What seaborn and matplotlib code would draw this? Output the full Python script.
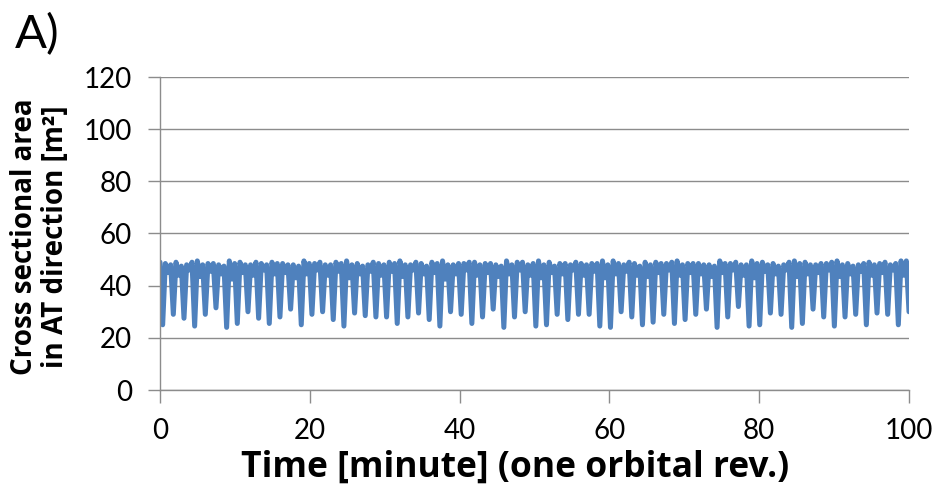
import numpy as np
import pandas as pd
import matplotlib
matplotlib.use("Agg")
import matplotlib.pyplot as plt
import seaborn as sns

# ---- data ----
dip_min = [25.0, 29.0, 27.5, 24.5, 29.0, 31.5, 24.0, 25.5, 30.0, 27.5,
           25.5, 28.0, 31.0, 25.0, 29.0, 30.0, 27.0, 24.5, 29.5, 28.5,
           28.0, 28.0, 25.5, 28.0, 29.5, 27.0, 24.5, 30.0, 29.0, 25.5,
           28.0, 31.0, 24.0, 28.0, 30.0, 24.5, 25.0, 29.0, 27.0, 29.0,
           29.0, 24.5, 24.0, 30.0, 28.0, 25.0, 26.0, 29.0, 25.5, 27.0,
           29.0, 31.0, 24.0, 28.0, 32.0, 24.5, 25.0, 29.5, 29.0, 24.0,
           25.5, 31.0, 28.0, 24.5, 28.0, 29.0, 25.0, 29.5, 29.0, 25.0]
peak_left = [48.5, 49.0, 48.0, 49.5, 48.5, 48.0, 49.5, 49.0, 48.0, 48.5,
             49.0, 48.5, 48.0, 49.5, 48.5, 48.0, 49.0, 49.5, 48.5, 48.0,
             48.5, 49.0, 49.5, 48.0, 48.5, 49.0, 49.5, 48.0, 48.5, 49.0,
             48.5, 48.0, 49.5, 49.0, 48.0, 49.5, 49.0, 48.5, 48.0, 48.5,
             48.5, 49.5, 49.5, 48.0, 48.5, 49.0, 49.0, 48.5, 49.5, 48.5,
             48.5, 48.0, 49.5, 48.5, 48.0, 49.5, 49.0, 48.5, 48.0, 49.5,
             49.0, 48.0, 48.5, 49.5, 48.5, 48.0, 49.0, 48.5, 48.0, 49.5]
notch = [45.0, 44.0, 46.0, 43.5, 45.5, 44.5, 42.5, 45.0, 44.0, 46.0,
         44.5, 45.0, 43.0, 44.5, 46.0, 44.0, 45.5, 43.0, 44.5, 45.5,
         44.0, 45.5, 43.5, 46.0, 44.5, 45.0, 42.5, 44.5, 46.0, 44.0,
         45.0, 43.5, 44.5, 46.0, 44.0, 43.0, 45.0, 44.5, 46.0, 44.0,
         45.5, 43.0, 44.5, 45.5, 44.0, 43.5, 45.0, 46.0, 44.0, 45.0,
         44.5, 43.5, 45.0, 46.0, 44.0, 43.0, 45.5, 44.5, 46.0, 43.5,
         44.5, 45.0, 46.0, 43.5, 44.5, 45.5, 44.0, 45.0, 46.0, 44.0]
peak_right = [48.0, 47.5, 49.0, 48.0, 48.5, 47.5, 48.5, 48.0, 49.0, 48.0,
              48.5, 48.0, 47.5, 48.5, 49.0, 48.0, 48.5, 48.0, 47.5, 49.0,
              48.0, 48.5, 48.0, 49.0, 47.5, 48.5, 48.0, 48.5, 49.0, 48.0,
              48.5, 47.5, 48.0, 49.0, 48.5, 48.0, 47.5, 48.5, 49.0, 48.0,
              48.5, 48.0, 48.5, 49.0, 47.5, 48.0, 48.5, 49.0, 48.0, 48.5,
              48.0, 47.5, 48.5, 49.0, 48.0, 48.5, 48.0, 47.5, 49.0, 48.5,
              48.0, 48.5, 49.0, 48.0, 47.5, 48.5, 48.0, 49.0, 48.5, 49.5]
start_value = 49.0
end_value = 30.0

x_ticks = [0, 20, 40, 60, 80, 100]
y_ticks = [0, 20, 40, 60, 80, 100, 120]
x_label = "Time [minute] (one orbital rev.)"
y_label = "Cross sectional area\nin AT direction [m²]"
panel_label = "A)"

# ---- assemble the series (samples in time order) ----
values = [start_value]
for d, a, n, b in zip(dip_min, peak_left, notch, peak_right):
    values += [d, a, n, b]
values.append(end_value)
df = pd.DataFrame({"time": np.linspace(x_ticks[0], x_ticks[-1], len(values)),
                   "area": values})

sns.set_theme(style="white")
plt.rcParams['font.family'] = ['Lato', 'DejaVu Sans']
label_font = ['Open Sans', 'DejaVu Sans']

fig = plt.figure(figsize=(9.37, 4.94), dpi=100)
ax = fig.add_axes([160 / 937, 1 - 390 / 494, 749 / 937, 313 / 494])

sns.lineplot(data=df, x="time", y="area", color="#4F81BD", linewidth=3.6,
             ax=ax, legend=False)

ax.set_xlim(x_ticks[0], x_ticks[-1])
ax.set_ylim(y_ticks[0], y_ticks[-1])
ax.set_xticks(x_ticks)
ax.set_yticks(y_ticks)
ax.yaxis.grid(True, color="#8c8c8c", linewidth=1.0)
ax.xaxis.grid(False)
ax.set_axisbelow(True)

for s in ["top", "right"]:
    ax.spines[s].set_visible(False)
ax.spines["left"].set_color("#8c8c8c")
ax.spines["bottom"].set_color("#8c8c8c")
ax.spines["left"].set_linewidth(1.0)
ax.spines["bottom"].set_linewidth(1.0)

ax.tick_params(axis="y", direction="out", length=9, width=1.0, color="#8c8c8c",
               pad=11, labelsize=20, labelcolor="black", left=True)
ax.tick_params(axis="x", direction="out", length=9, width=1.0, color="#8c8c8c",
               pad=11, labelsize=20, labelcolor="black", bottom=True)

ax.set_xlabel(x_label, fontsize=25.5, fontweight="bold", color="black",
              family=label_font)
ax.xaxis.set_label_coords((515 - 160) / 749, (390 - 468) / 313)
ax.xaxis.label.set_va("center")

ax.set_ylabel(y_label, fontsize=20, fontweight="bold", color="black",
              family=label_font, linespacing=1.1, va="center", ha="center")
ax.yaxis.set_label_coords((40 - 160) / 749, 0.49)

fig.text(15 / 937, 1 - 35 / 494, panel_label, fontsize=34, ha="left",
         va="center", color="black")

fig.savefig("out.png", dpi=100, facecolor="white")
